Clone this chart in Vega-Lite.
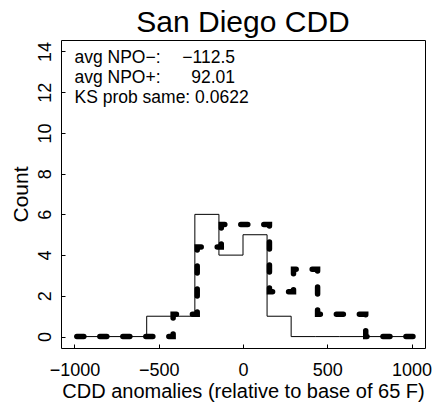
{
  "$schema": "https://vega.github.io/schema/vega-lite/v6.json",
  "width": 364,
  "height": 308,
  "autosize": {"type": "none"},
  "padding": {"left": 61, "top": 40, "right": 12, "bottom": 55},
  "background": "white",
  "config": {
    "view": {"stroke": "black", "strokeWidth": 1},
    "font": "Liberation Sans"
  },
  "title": {
    "text": "San Diego CDD",
    "font": "Liberation Sans",
    "fontSize": 30,
    "fontWeight": "normal",
    "color": "black",
    "anchor": "middle",
    "frame": "group",
    "baseline": "alphabetic",
    "offset": 8,
    "dy": 30
  },
  "datasets": {
    "npoMinus": [
      {"x": -1000, "y": 0}, {"x": -857.14, "y": 0}, {"x": -714.29, "y": 0},
      {"x": -571.43, "y": 1}, {"x": -428.57, "y": 1}, {"x": -285.71, "y": 6},
      {"x": -142.86, "y": 4}, {"x": 0, "y": 5}, {"x": 142.86, "y": 1},
      {"x": 285.71, "y": 0}, {"x": 428.57, "y": 0}, {"x": 571.43, "y": 0},
      {"x": 714.29, "y": 0}, {"x": 857.14, "y": 0}, {"x": 1000, "y": 0}
    ],
    "npoPlus": [
      {"x": -986, "y": 0}, {"x": -843.1, "y": 0}, {"x": -700.3, "y": 0},
      {"x": -557.4, "y": 0}, {"x": -414.6, "y": 1.1}, {"x": -271.7, "y": 4.4},
      {"x": -128.9, "y": 5.5}, {"x": 14, "y": 5.5}, {"x": 156.9, "y": 2.2},
      {"x": 299.7, "y": 3.3}, {"x": 442.6, "y": 1.1}, {"x": 585.4, "y": 1.1},
      {"x": 728.3, "y": 0}, {"x": 871.1, "y": 0}, {"x": 1014, "y": 0}
    ],
    "labelsLeft": [
      {"x": -1000, "y": 13.43, "label": "avg NPO−:"},
      {"x": -1000, "y": 12.45, "label": "avg NPO+:"},
      {"x": -1000, "y": 11.47, "label": "KS prob same: 0.0622"}
    ],
    "labelsRight": [
      {"x": -47.5, "y": 13.43, "label": "−112.5"},
      {"x": -47.5, "y": 12.45, "label": "92.01"}
    ]
  },
  "encoding": {
    "x": {
      "field": "x",
      "type": "quantitative",
      "scale": {"domain": [-1080, 1080], "nice": false, "zero": false},
      "axis": {
        "values": [-1000, -500, 0, 500, 1000],
        "format": "d",
        "domain": false,
        "grid": false,
        "tickSize": -4,
        "tickColor": "black",
        "tickWidth": 1,
        "labelFont": "Liberation Sans",
        "labelFontSize": 18,
        "labelColor": "black",
        "labelBaseline": "alphabetic",
        "labelAlign": "center",
        "labelPadding": 31,
        "labelFlush": false,
        "labelOverlap": false,
        "title": "CDD anomalies (relative to base of 65 F)",
        "titleFont": "Liberation Sans",
        "titleFontSize": 20,
        "titleFontWeight": "normal",
        "titleColor": "black",
        "titleX": 182,
        "titleY": 49.5,
        "titleAlign": "center",
        "titleBaseline": "alphabetic"
      }
    },
    "y": {
      "field": "y",
      "type": "quantitative",
      "scale": {"domain": [-0.56, 14.56], "nice": false, "zero": false},
      "axis": {
        "values": [0, 2, 4, 6, 8, 10, 12, 14],
        "domain": false,
        "grid": false,
        "tickSize": -4,
        "tickColor": "black",
        "tickWidth": 1,
        "labelFont": "Liberation Sans",
        "labelFontSize": 18,
        "labelColor": "black",
        "labelAngle": 270,
        "labelAlign": "center",
        "labelBaseline": "alphabetic",
        "labelPadding": 15,
        "labelOverlap": false,
        "labelFlush": false,
        "title": "Count",
        "titleFont": "Liberation Sans",
        "titleFontSize": 21,
        "titleFontWeight": "normal",
        "titleColor": "black",
        "titleAngle": 270,
        "titleX": -33.5,
        "titleY": 154,
        "titleAlign": "center",
        "titleBaseline": "alphabetic"
      }
    }
  },
  "layer": [
    {
      "data": {"name": "npoMinus"},
      "mark": {"type": "line", "interpolate": "step-after", "color": "black", "strokeWidth": 1}
    },
    {
      "data": {"name": "npoPlus"},
      "mark": {"type": "line", "interpolate": "step-after", "color": "black", "strokeWidth": 5.5, "strokeDash": [7, 16], "strokeCap": "round"}
    },
    {
      "data": {"name": "labelsLeft"},
      "mark": {"type": "text", "align": "left", "baseline": "alphabetic", "font": "Liberation Sans", "fontSize": 17.5, "color": "black"},
      "encoding": {"text": {"field": "label"}}
    },
    {
      "data": {"name": "labelsRight"},
      "mark": {"type": "text", "align": "right", "baseline": "alphabetic", "font": "Liberation Sans", "fontSize": 17.5, "color": "black"},
      "encoding": {"text": {"field": "label"}}
    }
  ]
}
